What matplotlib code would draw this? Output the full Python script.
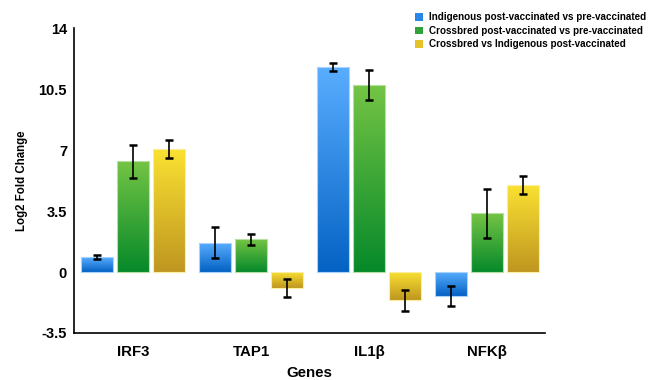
import numpy as np
import matplotlib
matplotlib.use("Agg")
import matplotlib.pyplot as plt
from matplotlib.colors import LinearSegmentedColormap
from matplotlib.patches import Patch

genes = ["IRF3", "TAP1", "IL1\u03b2", "NFK\u03b2"]
series_names = [
    "Indigenous post-vaccinated vs pre-vaccinated",
    "Crossbred post-vaccinated vs pre-vaccinated",
    "Crossbred vs Indigenous post-vaccinated",
]
indigenous = [0.85, 1.69, 11.78, -1.38]
indigenous_err = [0.10, 0.87, 0.24, 0.59]
crossbred = [6.35, 1.88, 10.73, 3.38]
crossbred_err = [0.95, 0.33, 0.86, 1.41]
cross_vs_ind = [7.07, -0.92, -1.63, 5.00]
cross_vs_ind_err = [0.52, 0.50, 0.58, 0.53]

values = [indigenous, crossbred, cross_vs_ind]
errors = [indigenous_err, crossbred_err, cross_vs_ind_err]
top_colors = ["#5aaeff", "#74c444", "#fbe232"]
bot_colors = ["#0462c4", "#06892a", "#bf9620"]
edge_colors = ["#a9d3ff", "#b5e0a0", "#fbeea0"]
legend_colors = ["#2a86e6", "#2fa33a", "#e3c22a"]

plt.rcParams['font.family'] = ['Liberation Sans', 'DejaVu Sans']
fig = plt.figure(figsize=(6.57, 3.80), dpi=100)
ax = fig.add_axes([0.1126, 0.1237, 0.717, 0.8023])

x = np.arange(len(genes))
width = 0.271
offset = 0.305
grad = np.linspace(1, 0, 256).reshape(-1, 1)

for i in range(3):
    pos = x + (i - 1) * offset
    cmap = LinearSegmentedColormap.from_list(f"g{i}", [bot_colors[i], top_colors[i]])
    bars = ax.bar(pos, values[i], width, color="none", edgecolor=edge_colors[i],
                  linewidth=0.8, zorder=2)
    for b in bars:
        x0 = b.get_x()
        y0 = b.get_y()
        h = b.get_height()
        lo, hi = min(y0, y0 + h), max(y0, y0 + h)
        im = ax.imshow(grad, cmap=cmap, aspect="auto",
                       extent=[x0, x0 + b.get_width(), lo, hi],
                       origin="upper", zorder=1, interpolation="bilinear")
        im.set_clip_path(b)
    ax.errorbar(pos, values[i], yerr=errors[i], fmt="none", ecolor="black",
                elinewidth=1.2, capsize=3, capthick=1.8, zorder=3)

ax.set_xlim(-0.5, 3.49)
ax.set_ylim(-3.5, 14)
ax.set_yticks([-3.5, 0, 3.5, 7, 10.5, 14])
ax.set_yticklabels(["-3.5", "0", "3.5", "7", "10.5", "14"])
ax.set_xticks(x)
ax.set_xticklabels(genes)
ax.tick_params(axis="both", length=0)
ax.tick_params(axis="y", pad=5, labelsize=10.5)
ax.tick_params(axis="x", pad=9, labelsize=10.8)
for lab in ax.get_xticklabels() + ax.get_yticklabels():
    lab.set_fontweight("bold")
ax.spines["top"].set_visible(False)
ax.spines["right"].set_visible(False)
ax.spines["left"].set_linewidth(1.2)
ax.spines["bottom"].set_linewidth(1.2)
ax.set_xlabel("Genes", fontsize=10.8, fontweight="bold", va="center")
ax.xaxis.set_label_coords(0.5, -40 / 305)
ax.set_ylabel("Log2 Fold Change", fontsize=8.3, fontweight="bold", va="center")
ax.yaxis.set_label_coords(-52 / 471, 0.5)

handles = [Patch(facecolor=c, edgecolor="none") for c in legend_colors]
fig.legend(handles, series_names, loc="upper left", bbox_to_anchor=(0.626, 0.978),
           frameon=False, prop={"size": 7.1, "weight": "bold"},
           handlelength=0.8, handleheight=0.8, handletextpad=0.6,
           labelspacing=0.35, borderaxespad=0)

fig.savefig("out.png", dpi=100)
